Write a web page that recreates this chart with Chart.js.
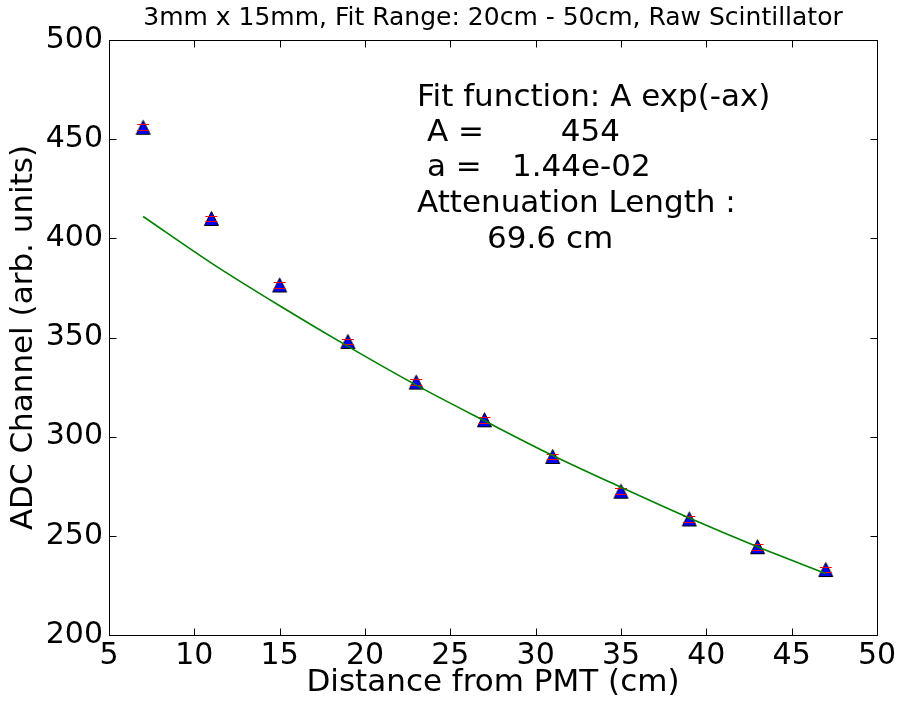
<!DOCTYPE html>
<html>
<head>
<meta charset="utf-8">
<script src="https://cdn.jsdelivr.net/npm/chart.js@4.4.0/dist/chart.umd.min.js"></script>
<style>
  html, body { margin: 0; padding: 0; background: #ffffff; }
  #wrap { width: 900px; height: 702px; }
</style>
</head>
<body>
<div id="wrap"><canvas id="c" width="900" height="702"></canvas></div>
<script>
// ---- data ----
const distances = [7, 11, 15, 19, 23, 27, 31, 35, 39, 43, 47];
const adcValues = [456, 410, 376.5, 348, 327.5, 308.5, 290, 272.5, 258.5, 244.5, 233];
const adcErrors = [1.4, 1.4, 1.4, 1.4, 1.4, 1.4, 1.4, 1.4, 1.4, 1.4, 1.4];
const fitDistances = [7, 11, 15, 19, 23, 27, 31, 35, 39, 43, 47];
const fitValues = [411, 387.5, 366, 345.5, 326, 308, 290.5, 274.5, 259, 244.5, 231];
const xTicks = [5, 10, 15, 20, 25, 30, 35, 40, 45, 50];
const yTicks = [200, 250, 300, 350, 400, 450, 500];
const titleText = '3mm x 15mm, Fit Range: 20cm - 50cm, Raw Scintillator';
const xLabel = 'Distance from PMT (cm)';
const yLabel = 'ADC Channel (arb. units)';
const fitText = {
  l1: 'Fit function: A exp(-ax)',
  l2a: 'A =', l2b: '454',
  l3a: 'a =', l3b: '1.44e-02',
  l4: 'Attenuation Length :',
  l5: '69.6 cm'
};

const FONT = 'DejaVu Sans';

// triangle marker (matplotlib '^' style)
const tri = document.createElement('canvas');
tri.width = 17; tri.height = 17;
(function () {
  const c = tri.getContext('2d');
  c.beginPath();
  c.moveTo(8.5, 1.5);
  c.lineTo(1.5, 15.5);
  c.lineTo(15.5, 15.5);
  c.closePath();
  c.fillStyle = '#0000ff';
  c.fill();
  c.lineWidth = 1;
  c.strokeStyle = '#000000';
  c.stroke();
})();

const scatterPts = distances.map((d, i) => ({ x: d, y: adcValues[i] }));
const fitPts = fitDistances.map((d, i) => ({ x: d, y: fitValues[i] }));

const errorBarPlugin = {
  id: 'errorBars',
  beforeDatasetDraw(chart, args) {
    if (args.index !== 0) return;
    const { ctx, scales: { x, y } } = chart;
    ctx.save();
    ctx.strokeStyle = '#ff0000';
    ctx.lineWidth = 1;
    distances.forEach((d, i) => {
      const px = Math.round(x.getPixelForValue(d)) + 0.5;
      const y1 = y.getPixelForValue(adcValues[i] + adcErrors[i]);
      const y2 = y.getPixelForValue(adcValues[i] - adcErrors[i]);
      ctx.beginPath();
      ctx.moveTo(px, y1); ctx.lineTo(px, y2);
      ctx.stroke();
    });
    ctx.restore();
  },
  afterDatasetDraw(chart, args) {
    if (args.index !== 0) return;
    const { ctx, scales: { x, y } } = chart;
    ctx.save();
    ctx.strokeStyle = '#ff0000';
    ctx.lineWidth = 1;
    distances.forEach((d, i) => {
      const px = x.getPixelForValue(d);
      [adcValues[i] + adcErrors[i], adcValues[i] - adcErrors[i]].forEach(v => {
        const py = Math.round(y.getPixelForValue(v)) + 0.5;
        ctx.beginPath();
        ctx.moveTo(px - 6, py); ctx.lineTo(px + 6, py);
        ctx.stroke();
      });
    });
    ctx.restore();
  }
};

const frameTicksPlugin = {
  id: 'frameTicks',
  afterDatasetsDraw(chart) {
    const { ctx, chartArea: a, scales: { x, y } } = chart;
    ctx.save();
    ctx.strokeStyle = '#000000';
    ctx.lineWidth = 1;
    const L = Math.round(a.left) + 0.5, R = Math.round(a.right) + 0.5;
    const T = Math.round(a.top) + 0.5, B = Math.round(a.bottom) + 0.5;
    ctx.strokeRect(L, T, R - L, B - T);
    const tl = 7;
    ctx.beginPath();
    xTicks.forEach(v => {
      const px = Math.round(x.getPixelForValue(v)) + 0.5;
      ctx.moveTo(px, B); ctx.lineTo(px, B - tl);
      ctx.moveTo(px, T); ctx.lineTo(px, T + tl);
    });
    yTicks.forEach(v => {
      const py = Math.round(y.getPixelForValue(v)) + 0.5;
      ctx.moveTo(L, py); ctx.lineTo(L + tl, py);
      ctx.moveTo(R, py); ctx.lineTo(R - tl, py);
    });
    ctx.stroke();
    ctx.restore();
  },
  afterDraw(chart) {
    const { ctx } = chart;
    ctx.save();
    ctx.fillStyle = '#000000';
    ctx.font = '31px "' + FONT + '"';
    ctx.textBaseline = 'alphabetic';
    ctx.textAlign = 'left';
    ctx.fillText(fitText.l1, 417, 106);
    ctx.fillText(fitText.l2a, 427, 141);
    ctx.textAlign = 'right';
    ctx.fillText(fitText.l2b, 620, 141);
    ctx.textAlign = 'left';
    ctx.fillText(fitText.l3a, 427, 176);
    ctx.fillText(fitText.l3b, 512, 176);
    ctx.fillText(fitText.l4, 417, 212);
    ctx.fillText(fitText.l5, 487, 248);
    ctx.restore();
  }
};

new Chart(document.getElementById('c'), {
  type: 'scatter',
  data: {
    datasets: [
      {
        label: 'data',
        data: scatterPts,
        pointStyle: tri,
        pointRadius: 8,
        showLine: false,
        order: 2
      },
      {
        label: 'fit',
        type: 'line',
        data: fitPts,
        showLine: true,
        borderColor: '#008000',
        borderWidth: 1.6,
        pointRadius: 0,
        fill: false,
        cubicInterpolationMode: 'monotone',
        order: 1
      }
    ]
  },
  options: {
    responsive: false,
    animation: false,
    devicePixelRatio: 1,
    layout: { padding: { left: 0, right: 23, top: 0, bottom: 0 } },
    plugins: {
      legend: { display: false },
      tooltip: { enabled: false },
      title: {
        display: true,
        text: titleText,
        fullSize: false,
        color: '#000000',
        font: { family: FONT, size: 25, weight: 'normal' },
        padding: { top: 3, bottom: 7 }
      }
    },
    scales: {
      x: {
        type: 'linear',
        min: 5, max: 50,
        afterBuildTicks(scale) { scale.ticks = xTicks.map(v => ({ value: v })); },
        afterFit(scale) { scale.height = 67; },
        grid: { display: false, drawTicks: false },
        border: { display: false },
        ticks: {
          color: '#000000',
          font: { family: FONT, size: 30 },
          padding: 3,
          maxRotation: 0,
          autoSkip: false
        },
        title: {
          display: true,
          text: xLabel,
          color: '#000000',
          font: { family: FONT, size: 31 },
          padding: { top: 0, bottom: 0 }
        }
      },
      y: {
        type: 'linear',
        min: 200, max: 500,
        afterBuildTicks(scale) { scale.ticks = yTicks.map(v => ({ value: v })); },
        afterFit(scale) { scale.width = 109; },
        grid: { display: false, drawTicks: false },
        border: { display: false },
        ticks: {
          color: '#000000',
          font: { family: FONT, size: 30 },
          padding: 6,
          autoSkip: false
        },
        title: {
          display: true,
          text: yLabel,
          color: '#000000',
          font: { family: FONT, size: 31 },
          padding: { top: 5, bottom: 0 }
        }
      }
    }
  },
  plugins: [errorBarPlugin, frameTicksPlugin]
});
</script>
</body>
</html>
